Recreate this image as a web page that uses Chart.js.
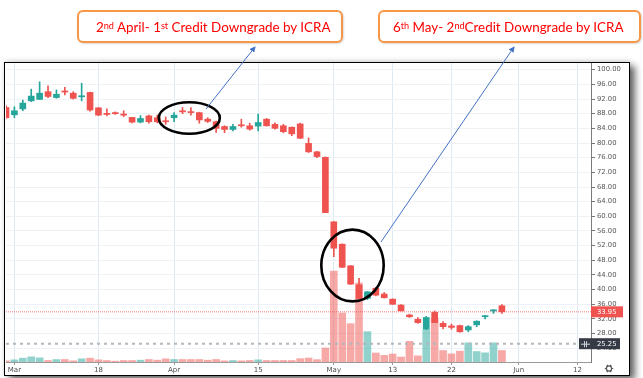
<!DOCTYPE html>
<html>
<head>
<meta charset="utf-8">
<script src="https://cdn.jsdelivr.net/npm/chart.js@4.4.1/dist/chart.umd.min.js"></script>
<style>
  html, body { margin: 0; padding: 0; background: #fff; }
  #wrap { position: relative; width: 643px; height: 378px; overflow: hidden; background: #fff; }
  #frame { position: absolute; left: 4px; top: 62px; width: 626px; height: 314px; box-sizing: border-box;
           border: 1.5px solid #000; background: #fff;
           box-shadow: 5px 4px 7px rgba(0,0,0,0.6), 0 -2px 4px rgba(0,0,0,0.10); }
  #c { position: absolute; left: 0; top: 0; }
  #ov { position: absolute; left: 0; top: 0; }
  .call { position: absolute; box-sizing: border-box; border: 2px solid #f79646; border-radius: 6px;
          background: #fff; color: #ff0000; font-family: Lato, "Open Sans", sans-serif; font-size: 13.4px;
          display: flex; align-items: center; white-space: nowrap; box-shadow: 1px 1px 2px rgba(0,0,0,0.15); }
  .call sup { font-size: 0.68em; vertical-align: super; line-height: 0; position: relative; top: -1px; }
</style>
</head>
<body>
<div id="wrap">
  <div id="frame"></div>
  <canvas id="c" width="643" height="378"></canvas>
  <svg id="ov" width="643" height="378">
    <defs>
      <marker id="ah" markerWidth="6" markerHeight="6" refX="5" refY="3" orient="auto" markerUnits="userSpaceOnUse">
        <path d="M0,0 L6,3 L0,6 z" fill="#4472c4"/>
      </marker>
    </defs>
    <ellipse cx="189.3" cy="118" rx="30.5" ry="15.7" fill="none" stroke="#000" stroke-width="2.6"/>
    <ellipse cx="352.5" cy="265.5" rx="31.2" ry="35.9" fill="none" stroke="#000" stroke-width="2.6"/>
    <line x1="206" y1="109" x2="255" y2="47" stroke="#4472c4" stroke-width="1" marker-end="url(#ah)"/>
    <line x1="381" y1="242" x2="514" y2="47" stroke="#4472c4" stroke-width="1" marker-end="url(#ah)"/>
  </svg>
  <div class="call" style="left:77px;top:10px;width:266px;height:33px;padding-left:17px;">2<sup>nd</sup>&nbsp;April- 1<sup>st</sup>&nbsp;Credit Downgrade by ICRA</div>
  <div class="call" style="left:378px;top:10px;width:263px;height:33px;padding-left:13px;">6<sup>th</sup>&nbsp;May- 2<sup>nd</sup>Credit Downgrade by ICRA</div>
</div>
<script>
// ---- data (2019 trading days) ----
const dates = ['Feb 28','Mar 1','Mar 5','Mar 6','Mar 7','Mar 8','Mar 11','Mar 12','Mar 13','Mar 14','Mar 15',
  'Mar 18','Mar 19','Mar 20','Mar 22','Mar 25','Mar 26','Mar 27','Mar 28','Mar 29',
  'Apr 1','Apr 2','Apr 3','Apr 4','Apr 5','Apr 8','Apr 9','Apr 10','Apr 11','Apr 12',
  'Apr 15','Apr 16','Apr 18','Apr 22','Apr 23','Apr 24','Apr 25','Apr 26','Apr 30',
  'May 2','May 3','May 6','May 7','May 8','May 9','May 10','May 13','May 14','May 15','May 16','May 17',
  'May 20','May 21','May 22','May 23','May 24','May 27','May 28','May 29','May 30'];
const openP  = [89.7,87.7,89.3,91.5,91.9,94.0,92.4,94.2,93.6,92.6,93.8,89.6,88.1,88.3,87.9,87.0,85.7,87.4,86.9,86.0,
  86.9,88.8,88.5,88.3,86.5,85.8,84.5,83.7,84.9,84.7,84.6,86.5,85.1,84.7,84.3,85.2,79.9,77.6,76.1,
  58.5,52.4,46.5,41.3,37.6,40.4,38.8,37.4,35.8,33.1,31.9,29.3,33.8,30.8,30.1,30.2,29.0,30.4,32.6,34.2,35.6];
const highP  = [90.2,89.9,91.7,94.7,96.7,95.6,94.5,95.2,94.0,96.3,93.9,89.7,89.3,88.5,88.8,87.0,87.5,87.6,87.6,87.1,
  88.3,89.7,89.7,88.4,86.9,86.0,84.7,85.1,86.5,85.4,87.9,86.7,85.5,85.1,84.4,85.4,81.4,77.7,76.2,
  58.6,52.5,46.6,43.1,39.5,40.6,39.2,37.5,35.9,33.3,32.4,32.7,34.2,31.3,30.6,30.3,30.2,31.5,33.0,34.5,35.9];
const lowP   = [86.7,86.9,88.8,91.3,91.9,92.4,92.2,93.1,92.0,91.5,88.7,87.5,87.4,87.8,87.2,85.5,85.5,85.4,85.5,85.1,
  85.8,88.0,87.6,85.4,85.6,82.9,82.8,83.3,84.3,83.5,83.3,84.6,83.8,82.8,82.0,81.2,77.4,76.0,61.0,
  49.0,46.0,41.4,37.6,37.3,38.3,37.7,36.0,34.2,32.4,30.8,29.1,31.0,29.3,29.2,28.4,28.5,29.9,32.0,33.5,33.5];
const closeP = [86.9,88.8,90.9,92.8,93.6,92.7,93.3,93.9,92.2,92.9,89.0,87.6,87.8,88.0,87.6,85.7,86.7,85.8,85.8,85.8,
  87.6,88.5,88.3,86.3,85.9,84.0,83.7,84.5,84.7,83.8,85.6,84.7,84.0,83.1,82.5,81.3,77.6,76.3,61.0,
  51.3,46.1,41.5,37.6,39.4,38.5,37.8,36.0,34.2,32.6,31.0,32.4,31.0,29.9,29.7,28.5,29.9,31.4,32.9,34.5,33.95];
const volume = [0.7,1.3,2.3,3.1,2.5,0.9,1.5,1.5,0.7,1.9,2.3,1.3,0.9,0.5,0.9,0.9,1.1,1.5,1.1,1.9,
  1.5,1.5,1.5,1.5,1.1,1.5,0.7,0.9,0.7,0.9,1.3,0.9,0.9,0.9,0.9,2.0,2.4,1.4,8.4,
  54.6,29.4,23.0,47.4,18.2,5.4,4.0,4.8,3.0,12.4,3.7,19.6,26.4,6.9,4.9,6.5,11.5,6.3,5.5,11.5,6.9];
const tickIdx    = [1, 11, 20, 30, 39, 46, 53, 61, 68];
const tickLabels = ['Mar', '18', 'Apr', '15', 'May', '13', '22', 'Jun', '12'];
const priceTicks = [24,28,32,36,40,44,48,52,56,60,64,68,72,76,80,84,88,92,96,100];
const lastPrice = 33.95;
const markPrice = 25.25;

// ---- styling ----
const UP = '#26a69a', DN = '#ef5350';
const UPV = 'rgba(38,166,154,0.5)', DNV = 'rgba(239,83,80,0.5)';
const idx = dates.map((_, i) => i);
const isUp = i => closeP[i] >= openP[i];
const XMAX = 69.6;

const labelPlugin = {
  id: 'priceLabels',
  afterDraw(chart) {
    const ctx = chart.ctx, ys = chart.scales.y;
    ctx.save();
    ctx.font = '6.8px "DejaVu Sans"';
    ctx.textBaseline = 'middle';
    let y = ys.getPixelForValue(lastPrice);
    ctx.fillStyle = DN;
    ctx.fillRect(591, y - 5.5, 32, 11);
    ctx.fillStyle = '#fff';
    ctx.fillText(lastPrice.toFixed(2), 597, y + 0.5);
    y = ys.getPixelForValue(markPrice);
    ctx.fillStyle = '#363a45';
    ctx.fillRect(579, y - 5.5, 41, 11);
    ctx.strokeStyle = '#cfd2d8'; ctx.lineWidth = 1;
    ctx.beginPath();
    ctx.moveTo(581, y + 0.5); ctx.lineTo(590, y + 0.5);
    ctx.moveTo(584.5, y - 2.5); ctx.lineTo(584.5, y + 3.5);
    ctx.moveTo(586.5, y - 2.5); ctx.lineTo(586.5, y + 3.5);
    ctx.stroke();
    ctx.fillStyle = '#fff';
    ctx.fillText(markPrice.toFixed(2), 597, y + 0.5);
    const gx = 609, gy = 368.5;
    ctx.strokeStyle = '#555'; ctx.lineWidth = 1.2;
    ctx.beginPath(); ctx.arc(gx, gy, 2.6, 0, Math.PI * 2); ctx.stroke();
    ctx.beginPath();
    for (let k = 0; k < 6; k++) {
      const a = k * Math.PI / 3;
      ctx.moveTo(gx + Math.cos(a) * 2.6, gy + Math.sin(a) * 2.6);
      ctx.lineTo(gx + Math.cos(a) * 4.2, gy + Math.sin(a) * 4.2);
    }
    ctx.stroke();
    ctx.restore();
  }
};

new Chart(document.getElementById('c'), {
  type: 'bar',
  data: {
    datasets: [
      { type: 'bar', label: 'Volume', yAxisID: 'v', order: 5, grouped: false, barThickness: 7,
        data: idx.map(i => ({ x: i, y: volume[i] })),
        backgroundColor: idx.map(i => isUp(i) ? UPV : DNV) },
      { type: 'line', label: 'mark', yAxisID: 'y', order: 4,
        data: [{ x: 0, y: markPrice }, { x: XMAX, y: markPrice }],
        borderColor: '#b4b7be', borderWidth: 2, borderDash: [3, 4], pointRadius: 0 },
      { type: 'line', label: 'last', yAxisID: 'y', order: 3,
        data: [{ x: 0, y: lastPrice }, { x: XMAX, y: lastPrice }],
        borderColor: 'rgba(239,83,80,0.75)', borderWidth: 1, borderDash: [1, 1], pointRadius: 0 },
      { type: 'bar', label: 'Wick', yAxisID: 'y', order: 2, grouped: false, barThickness: 1,
        data: idx.map(i => ({ x: i, y: [lowP[i], highP[i]] })),
        backgroundColor: idx.map(i => isUp(i) ? UP : DN) },
      { type: 'bar', label: 'Body', yAxisID: 'y', order: 1, grouped: false, barThickness: 6, minBarLength: 1,
        data: idx.map(i => ({ x: i, y: [Math.min(openP[i], closeP[i]), Math.max(openP[i], closeP[i])] })),
        backgroundColor: idx.map(i => isUp(i) ? UP : DN) }
    ]
  },
  options: {
    responsive: false,
    animation: false,
    devicePixelRatio: 1,
    layout: { padding: { left: 6, top: 63, right: 15, bottom: 3 } },
    plugins: { legend: { display: false }, tooltip: { enabled: false } },
    scales: {
      x: {
        type: 'linear', min: 0, max: XMAX, offset: false,
        afterBuildTicks: s => { s.ticks = tickIdx.map(v => ({ value: v })); },
        afterFit: s => { s.height = 13; },
        grid: { offset: false, color: '#dfe9f3', tickLength: 3, tickColor: '#999' },
        border: { display: true, color: '#9a9a9a' },
        ticks: { autoSkip: false, maxRotation: 0, padding: 1, color: '#4a4a4a',
                 font: { family: 'DejaVu Sans', size: 7 },
                 callback: (v, i) => tickLabels[i] }
      },
      y: {
        position: 'right', min: 20.26, max: 101.83,
        afterBuildTicks: s => { s.ticks = priceTicks.map(v => ({ value: v })); },
        afterFit: s => { s.width = 37; },
        grid: { color: '#eef1f6', tickLength: 4, tickColor: '#777' },
        border: { display: true, color: '#7a7a7a' },
        ticks: { padding: 2, color: '#555', font: { family: 'DejaVu Sans', size: 6.8 },
                 callback: v => Number(v).toFixed(2) }
      },
      v: { display: false, min: 0, max: 179.4 }
    }
  },
  plugins: [labelPlugin]
});
</script>
</body>
</html>
